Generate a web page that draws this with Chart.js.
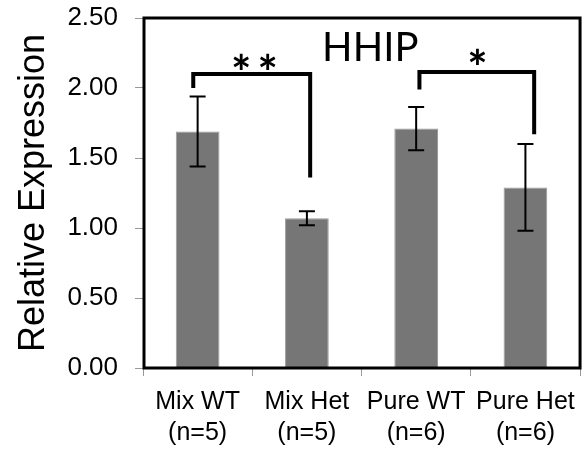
<!DOCTYPE html>
<html>
<head>
<meta charset="utf-8">
<script src="https://cdn.jsdelivr.net/npm/chart.js@4/dist/chart.umd.min.js"></script>
<style>
  html, body { margin: 0; padding: 0; background: #fff; }
  #wrap { width: 585px; height: 449px; }
</style>
</head>
<body>
<div id="wrap"><canvas id="hhip"></canvas></div>
<script>
var groups = [['Mix WT', '(n=5)'], ['Mix Het', '(n=5)'], ['Pure WT', '(n=6)'], ['Pure Het', '(n=6)']];
var means = [1.69, 1.07, 1.71, 1.29];
var errors = [0.25, 0.05, 0.155, 0.31];
var yTicks = [0, 0.5, 1.0, 1.5, 2.0, 2.5];

// significance brackets: from/to are category positions, top is the bar height in data units
var bracketFrom = [-0.04, 2.03];
var bracketTo = [1.03, 3.08];
var bracketTop = [2.10, 2.115];
var bracketLegFrom = [2.00, 1.99];
var bracketLegTo = [1.36, 1.67];
var bracketMark = ['**', '*'];
var markX = [0.52, 2.56];
var markY = [2.17, 2.20];

var chartTitle = 'HHIP';
var titleX = 1.58;
var titleY = 2.19;

var overlay = {
    id: 'overlay',
    afterDatasetsDraw: function (chart) {
        var ctx = chart.ctx;
        var xs = chart.scales.x;
        var ys = chart.scales.y;
        var meta = chart.getDatasetMeta(0);
        ctx.save();
        ctx.strokeStyle = '#000';

        // error bars
        ctx.lineWidth = 2;
        for (var i = 0; i < means.length; i++) {
            var x = meta.data[i].x;
            var t = ys.getPixelForValue(means[i] + errors[i]);
            var b = ys.getPixelForValue(means[i] - errors[i]);
            ctx.beginPath();
            ctx.moveTo(x, t); ctx.lineTo(x, b);
            ctx.moveTo(x - 8, t); ctx.lineTo(x + 8, t);
            ctx.moveTo(x - 8, b); ctx.lineTo(x + 8, b);
            ctx.stroke();
        }

        // brackets
        ctx.lineWidth = 4;
        ctx.lineJoin = 'miter';
        for (var j = 0; j < bracketFrom.length; j++) {
            var x1 = xs.getPixelForValue(bracketFrom[j]);
            var x2 = xs.getPixelForValue(bracketTo[j]);
            ctx.beginPath();
            ctx.moveTo(x1, ys.getPixelForValue(bracketLegFrom[j]));
            ctx.lineTo(x1, ys.getPixelForValue(bracketTop[j]));
            ctx.lineTo(x2, ys.getPixelForValue(bracketTop[j]));
            ctx.lineTo(x2, ys.getPixelForValue(bracketLegTo[j]));
            ctx.stroke();
        }

        ctx.fillStyle = '#000';
        ctx.textAlign = 'center';
        ctx.textBaseline = 'middle';
        ctx.font = 'bold 48px Lato';
        ctx.letterSpacing = '6px';
        for (var k = 0; k < bracketMark.length; k++) {
            ctx.fillText(bracketMark[k], xs.getPixelForValue(markX[k]) + 3, ys.getPixelForValue(markY[k]) + 10);
        }
        ctx.letterSpacing = '0px';

        ctx.textBaseline = 'alphabetic';
        ctx.font = '40px Lato';
        ctx.fillText(chartTitle, xs.getPixelForValue(titleX), ys.getPixelForValue(titleY));
        ctx.restore();
    },
    afterDraw: function (chart) {
        var a = chart.chartArea;
        var ctx = chart.ctx;
        ctx.save();
        ctx.strokeStyle = '#000';
        ctx.lineWidth = 3;
        ctx.strokeRect(a.left + 1, a.top, a.right - a.left - 1, a.bottom - a.top);
        ctx.restore();
    }
};

var ctx = document.getElementById('hhip');
var hhip_chart = new Chart(ctx, {
    type: 'bar',
    data: {
        labels: groups,
        datasets: [
            {
                label: chartTitle,
                data: means,
                backgroundColor: '#767676',
                borderColor: '#9a9a9a',
                borderWidth: 1,
                barPercentage: 0.4,
                categoryPercentage: 1.0
            }
        ]
    },
    options: {
        responsive: true,
        maintainAspectRatio: false,
        animation: false,
        layout: { padding: { top: 18, right: 2, left: 0, bottom: 0 } },
        plugins: {
            legend: { display: false },
            tooltip: { enabled: false }
        },
        scales: {
            x: {
                afterFit: function (scale) { scale.height = 81; },
                border: { color: '#888', width: 1 },
                grid: { drawOnChartArea: false, color: '#999', tickLength: 8, offset: true },
                ticks: {
                    color: '#000',
                    padding: 10,
                    maxRotation: 0,
                    autoSkip: false,
                    font: { family: 'Liberation Sans', size: 25, lineHeight: 1.25 }
                }
            },
            y: {
                min: 0,
                max: 2.5,
                afterFit: function (scale) {
                    scale.width = 143;
                    scale.paddingTop = 0;
                    scale.paddingBottom = 0;
                },
                afterBuildTicks: function (scale) {
                    scale.ticks = yTicks.map(function (v) { return { value: v }; });
                },
                border: { color: '#888', width: 1 },
                grid: { drawOnChartArea: false, color: '#999', tickLength: 8 },
                ticks: {
                    color: '#000',
                    padding: 17,
                    font: { family: 'Liberation Sans', size: 26 },
                    callback: function (v) { return Number(v).toFixed(2); }
                },
                title: {
                    display: true,
                    text: 'Relative Expression',
                    color: '#000',
                    padding: { top: 12, bottom: 0 },
                    font: { family: 'Liberation Sans', size: 36 }
                }
            }
        }
    },
    plugins: [overlay]
});
</script>
</body>
</html>
